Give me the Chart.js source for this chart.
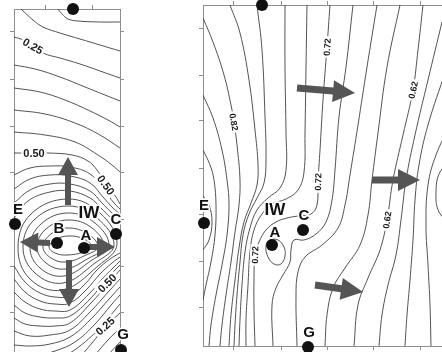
<!DOCTYPE html>
<html>
<head>
<meta charset="utf-8">
<script src="https://cdn.jsdelivr.net/npm/chart.js@4/dist/chart.umd.min.js"></script>
<style>
  html, body { margin: 0; padding: 0; background: #fff; overflow: hidden; width: 442px; height: 352px; position: relative; }
  canvas { position: absolute; }
</style>
</head>
<body>
<canvas id="left" width="126" height="365" style="left:6px;top:1px"></canvas>
<canvas id="right" width="293" height="357" style="left:195px;top:-3px"></canvas>
<script>
// ---- Left map: head distribution around the injection well (x east, y south from the north edge)
const leftTicksX = [31, 78];
const leftTicksY = [23, 70, 117, 163, 210, 257, 303];

const lc015 = [[44,0],[48,5],[54,10],[64,12],[86,13],[106,13]];
const lc020 = [[7,0],[19,11],[29,18],[46,24],[66,30],[86,36],[106,42]];
const lc025 = [[0,28],[9,31],[29,44],[46,49],[66,55],[86,62],[106,69]];
const lc030 = [[0,56],[21,60],[46,68],[71,78],[91,86],[106,92]];
const lc035 = [[0,79],[26,83],[51,91],[76,102],[94,111],[106,118]];
const lc040 = [[0,101],[31,105],[61,114],[86,126],[106,139]];
const lc045 = [[0,123],[31,126],[61,133],[84,146],[98,156],[106,163]];
const lc050n = [[0,144],[16,144],[34,144],[58,146],[74,152],[83,161],[92,175],[102,188],[106,195]];
const lc055n = [[0,166],[16,159],[36,157],[56,158],[76,165],[90,181],[100,194],[106,200]];
const lc060n = [[0,180],[16,170],[36,166],[56,167],[76,174],[89,188],[99,199],[106,205]];
const lc065n = [[0,194],[16,181],[36,175],[56,175],[76,182],[88,194],[98,204],[106,210]];
const lc070n = [[0,209],[14,192],[36,183],[56,182],[76,189],[87,199],[97,209],[106,215]];

const lr075 = [[4,238],[17,205],[54,190],[86,204],[103,235],[84,257],[48,281],[16,270]];
const lr080 = [[9,238],[21,210],[54,197],[83,209],[100,236],[81,254],[49,274],[21,264]];
const lr085 = [[16,238],[27,215],[54,204],[81,214],[95,237],[78,251],[50,267],[26,259]];
const lr090 = [[23,238],[32,220],[54,211],[78,219],[90,238],[75,249],[51,260],[32,254]];
const lr095 = [[29,238],[37,225],[54,219],[74,225],[84,238],[72,246],[52,253],[37,249]];
const lr100 = [[35,238],[41,231],[54,227],[70,230],[78,238],[70,243],[53,246],[41,244]];

const lc070s = [[0,257],[11,273],[26,284],[41,288],[56,287],[71,275],[83,261],[96,250],[106,244]];
const lc065s = [[0,270],[11,283],[26,292],[41,295],[56,294],[73,280],[86,265],[98,254],[106,248]];
const lc060s = [[0,283],[11,293],[26,300],[41,302],[56,301],[75,285],[89,269],[99,259],[106,252]];
const lc055s = [[0,296],[11,304],[26,308],[41,309],[56,307],[76,290],[91,272],[100,262],[106,256]];
const lc050s = [[0,309],[11,315],[26,317],[41,317],[56,314],[76,295],[94,275],[106,261]];
const lc045s = [[0,322],[16,327],[36,326],[56,321],[76,303],[96,281],[106,270]];
const lc040s = [[0,336],[16,337],[36,335],[56,328],[76,311],[96,289],[106,278]];
const lc035s = [[0,349],[21,347],[41,342],[61,333],[81,315],[98,295],[106,286]];
const lc030s = [[16,359],[36,353],[56,344],[81,324],[96,307],[106,295]];
const lc025s = [[41,369],[61,353],[78,334],[91,318],[106,304]];
const lc020s = [[61,369],[81,346],[94,331],[106,319]];
const lc015s = [[81,363],[96,344],[106,333]];

const leftValueLabels = [
  ['0.25', 19, 37, 30], ['0.50', 20, 144, 0], ['0.50', 92, 176, 55],
  ['0.50', 93, 274, -45], ['0.25', 91, 317, -42]
];
const leftWellNames = ['E', 'IW', 'B', 'A', 'C', 'G'];
const leftWellLabelXY = [[4,200],[75,203],[45,219],[72,226],[102,210],[109,325]];
const leftWells = [[59,0],[1,215],[43,234],[70,239],[102,225],[107,341]];
const leftArrows = [[[54,196],[54,148]], [[36,234],[6,233]], [[72,238],[101,238]], [[55,251],[55,298]]];

// ---- Right map
const rightTicksX = [30, 78, 124, 170, 217, 264];
const rightTicksY = [23, 70, 116, 163, 209, 256, 302];

const rl1 = [[0,145],[7,160],[11,175],[13,200],[12,230],[8,257],[3,280],[0,295]];
const rlE = [[0,191],[6,200],[9,217],[6,235],[0,245]];
const rl2 = [[0,90],[10,113],[19,145],[24,175],[26,200],[24,230],[19,260],[13,290],[8,320],[6,341]];
const rc082 = [[0,13],[10,37],[21,70],[28,100],[31,117],[34,140],[37,175],[36,200],[32,227],[28,257],[23,290],[19,320],[17,341]];
const rl4 = [[27,0],[37,28],[46,75],[52,125],[55,160],[54,180],[48,198],[41,217],[36,243],[32,275],[28,310],[26,341]];
const rl5 = [[54,0],[59,45],[62,112],[63,155],[61,178],[54,193],[46,209],[40,230],[37,257],[34,290],[32,320],[31,341]];
const rl6 = [[82,0],[82,62],[83,128],[83,165],[77,183],[65,193],[54,205],[47,223],[42,247],[39,280],[37,315],[36,341]];
const rl7 = [[104,0],[103,62],[102,128],[101,167],[95,185],[83,194],[69,199],[59,209],[51,225],[47,247],[45,280],[43,315],[43,341]];
const rc072 = [[127,0],[124,42],[120,95],[117,145],[115,177],[114,200],[108,209],[95,211],[84,213],[73,217],[63,225],[56,237],[52,250],[51,275],[51,305],[52,341]];
const rl9 = [[150,0],[143,62],[136,112],[132,165],[129,195],[123,217],[113,229],[101,235],[91,235],[88,245],[87,257],[80,270],[73,283],[69,300],[70,341]];
const rLoopA = [[63,241],[67,235],[75,235],[81,242],[82,251],[78,259],[71,259],[65,252]];
const rl10 = [[174,0],[164,62],[155,120],[147,170],[142,200],[135,223],[119,240],[102,252],[95,267],[93,290],[94,341]];
const rl11 = [[197,0],[184,62],[175,128],[169,175],[165,210],[157,240],[142,263],[130,283],[124,310],[122,341]];
const rc062 = [[220,0],[215,45],[210,85],[200,130],[190,175],[184,215],[177,245],[165,273],[155,300],[151,341]];
const rl13 = [[239,17],[225,75],[212,130],[203,175],[198,215],[193,250],[185,280],[179,310],[176,341]];
const rl14 = [[243,65],[225,120],[216,160],[212,195],[210,235],[207,275],[204,310],[202,341]];
const rl15 = [[247,120],[233,150],[225,180],[223,220],[225,260],[227,300],[228,341]];
const rl16 = [[249,155],[237,167],[233,187],[236,207],[249,220]];

const rightValueLabels = [
  ['0.82', 31, 117, 80], ['0.72', 124, 42, -87], ['0.62', 210, 85, -78],
  ['0.72', 115, 177, -88], ['0.62', 184, 215, -82], ['0.72', 52, 250, -88]
];
const rightWellNames = ['E', 'IW', 'A', 'C', 'G'];
const rightWellLabelXY = [[1,200],[72,204],[72,227],[101,210],[106,327]];
const rightWells = [[59,0],[1,218],[69,240],[100,225],[105,342]];
const rightArrows = [[[94,83],[152,88]], [[169,175],[217,175]], [[112,280],[160,287]]];

// ---- styling
const FRAME = '#8e8e8e';
const LINE = '#3f3f3f';
const ARROW = '#555555';
const FONT = '"Liberation Sans", Arial, sans-serif';

const toXY = arr => arr.map(p => ({ x: p[0], y: p[1] }));

function openLine(arr) {
  return { data: toXY(arr), showLine: true, pointRadius: 0, borderColor: LINE, borderWidth: 0.9,
           tension: 0.4, fill: false, xAxisID: 'x', yAxisID: 'y' };
}
// closed contour: wrap neighbours on both ends so the spline stays smooth, hide the wrap segments
function ringLine(arr) {
  const n = arr.length;
  const data = toXY([arr[n - 1], ...arr, arr[0], arr[1]]);
  const last = data.length - 2;
  return { data, showLine: true, pointRadius: 0, borderColor: LINE, borderWidth: 0.9,
           tension: 0.4, fill: false, xAxisID: 'x', yAxisID: 'y',
           segment: { borderColor: c => (c.p0DataIndex === 0 || c.p0DataIndex === last) ? 'rgba(0,0,0,0)' : LINE } };
}
function wellDots(arr) {
  return { data: toXY(arr), showLine: false, pointRadius: 6, pointHoverRadius: 6,
           backgroundColor: '#111', borderWidth: 0, clip: false, xAxisID: 'x', yAxisID: 'y' };
}

function frameAxis(position, max, ticks, pad, reverse) {
  return {
    type: 'linear', position, min: 0, max, reverse: !!reverse,
    afterBuildTicks: s => { s.ticks = ticks.map(v => ({ value: v })); },
    afterFit: s => { if (s.isHorizontal()) s.height = pad; else s.width = pad; },
    ticks: { display: false },
    grid: { display: true, drawOnChartArea: false, drawTicks: true, tickLength: 4, color: FRAME, lineWidth: 1 },
    border: { display: true, color: FRAME, width: 1 }
  };
}

// contour values, arrows and well names, painted just before the well dots
function overlay(spec) {
  return {
    id: 'mapOverlay',
    beforeDatasetDraw(chart, args) {
      if (args.index !== 0) return;
      const ctx = chart.ctx, sx = chart.scales.x, sy = chart.scales.y;
      const P = p => [sx.getPixelForValue(p[0]), sy.getPixelForValue(p[1])];
      ctx.save();
      // contour values on white boxes
      spec.values.forEach(([t, x, y, a]) => {
        const [px, py] = P([x, y]);
        ctx.save();
        ctx.translate(px, py);
        ctx.rotate(a * Math.PI / 180);
        ctx.font = spec.valueFont;
        const w = ctx.measureText(t).width;
        const h = spec.valueSize;
        ctx.fillStyle = '#fff';
        ctx.fillRect(-w / 2 - 2, -h * 0.55, w + 4, h * 1.1);
        ctx.fillStyle = '#1a1a1a';
        ctx.textAlign = 'center';
        ctx.textBaseline = 'alphabetic';
        ctx.fillText(t, 0, h * 0.36);
        ctx.restore();
      });
      // flow arrows
      spec.arrows.forEach(([tail, tip]) => {
        const [x0, y0] = P(tail), [x1, y1] = P(tip);
        const L = Math.hypot(x1 - x0, y1 - y0), ux = (x1 - x0) / L, uy = (y1 - y0) / L;
        const nx = -uy, ny = ux;
        const bx = x1 - ux * spec.head, by = y1 - uy * spec.head;
        const s = spec.shaft, hw = spec.headHalf;
        ctx.beginPath();
        ctx.moveTo(x0 + nx * s, y0 + ny * s);
        ctx.lineTo(bx + nx * s, by + ny * s);
        ctx.lineTo(bx + nx * hw, by + ny * hw);
        ctx.lineTo(x1, y1);
        ctx.lineTo(bx - nx * hw, by - ny * hw);
        ctx.lineTo(bx - nx * s, by - ny * s);
        ctx.lineTo(x0 - nx * s, y0 - ny * s);
        ctx.closePath();
        ctx.fillStyle = ARROW;
        ctx.fill();
      });
      // well names
      spec.names.forEach((t, i) => {
        const [px, py] = P(spec.namePos[i]);
        const size = t === 'IW' ? 17 : 15;
        ctx.font = 'bold ' + size + 'px ' + FONT;
        ctx.textAlign = 'center';
        ctx.textBaseline = 'alphabetic';
        const by = py + size * 0.36;
        ctx.lineJoin = 'round';
        ctx.lineWidth = 3.5;
        ctx.strokeStyle = '#fff';
        ctx.strokeText(t, px, by);
        ctx.fillStyle = '#111';
        ctx.fillText(t, px, by);
      });
      ctx.restore();
    }
  };
}

function mapChart(id, cfg) {
  return new Chart(document.getElementById(id), {
    type: 'scatter',
    data: { datasets: [wellDots(cfg.wells), ...cfg.open.map(openLine), ...cfg.rings.map(ringLine)] },
    options: {
      responsive: false, animation: false, events: [],
      layout: { padding: 0 },
      elements: { line: { capBezierPoints: false } },
      plugins: { legend: { display: false }, tooltip: { enabled: false } },
      scales: {
        x: frameAxis('bottom', cfg.xMax, cfg.ticksX, cfg.pad[3]),
        x2: frameAxis('top', cfg.xMax, cfg.ticksX, cfg.pad[0]),
        y: frameAxis('left', cfg.yMax, cfg.ticksY, cfg.pad[1], true),
        y2: frameAxis('right', cfg.yMax, cfg.ticksY, cfg.pad[2], true)
      }
    },
    plugins: [overlay(cfg.overlay)]
  });
}

mapChart('left', {
  xMax: 106, yMax: 349, ticksX: leftTicksX, ticksY: leftTicksY, pad: [8, 8, 12, 8],
  wells: leftWells,
  open: [lc015, lc020, lc025, lc030, lc035, lc040, lc045, lc050n, lc055n, lc060n, lc065n, lc070n,
         lc070s, lc065s, lc060s, lc055s, lc050s, lc045s, lc040s, lc035s, lc030s, lc025s, lc020s, lc015s],
  rings: [lr075, lr080, lr085, lr090, lr095, lr100],
  overlay: { values: leftValueLabels, valueFont: 'bold 11px ' + FONT, valueSize: 11,
             arrows: leftArrows, head: 18, headHalf: 10, shaft: 3,
             names: leftWellNames, namePos: leftWellLabelXY }
});

mapChart('right', {
  xMax: 277, yMax: 341, ticksX: rightTicksX, ticksY: rightTicksY, pad: [8, 8, 8, 8],
  wells: rightWells,
  open: [rl1, rlE, rl2, rc082, rl4, rl5, rl6, rl7, rc072, rl9, rl10, rl11, rc062, rl13, rl14, rl15, rl16],
  rings: [rLoopA],
  overlay: { values: rightValueLabels, valueFont: 'bold 9px ' + FONT, valueSize: 9,
             arrows: rightArrows, head: 22, headHalf: 11, shaft: 3.5,
             names: rightWellNames, namePos: rightWellLabelXY }
});
</script>
</body>
</html>
